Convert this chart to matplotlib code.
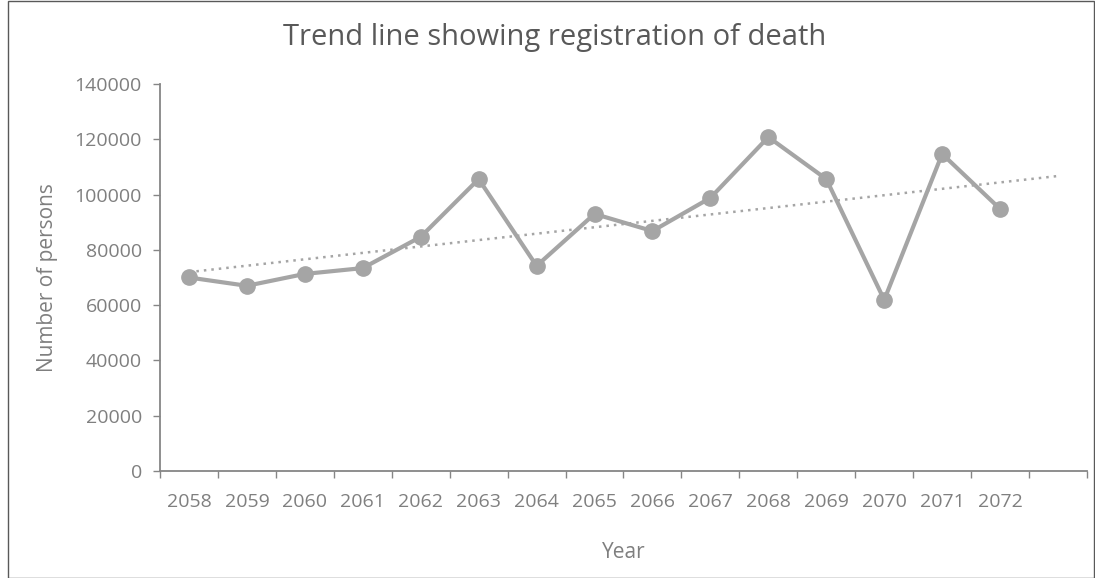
import numpy as np
import matplotlib
matplotlib.use("Agg")
import matplotlib.pyplot as plt
from matplotlib.patches import Rectangle

# registered deaths per year
years = ["2058", "2059", "2060", "2061", "2062", "2063", "2064", "2065",
         "2066", "2067", "2068", "2069", "2070", "2071", "2072"]
deaths = [70000, 67000, 71300, 73400, 84700, 105600, 74200, 93000,
          86800, 98800, 120800, 105600, 61900, 114700, 94800]
y_ticks = [0, 20000, 40000, 60000, 80000, 100000, 120000, 140000]

plt.rcParams['font.family'] = ['Open Sans', 'DejaVu Sans']
text_col = '#7f7f7f'
axis_col = '#868686'
line_col = '#a5a5a5'

fig = plt.figure(figsize=(10.95, 5.78), dpi=100, facecolor='w')
fig.patches.append(Rectangle((0.007, 0.0), 0.992, 0.998, transform=fig.transFigure,
                             fill=False, edgecolor='#595959', lw=1.0))
ax = fig.add_axes([0.1461, 0.1851, 0.8466, 0.6696])

x = np.arange(len(years))
ax.plot(x, deaths, color=line_col, lw=3.0, marker='o', markersize=11,
        zorder=3, solid_capstyle='round')

# linear trend, forecast forward one period
coef = np.polyfit(x, deaths, 1)
xt = np.array([0, len(years)])
ax.plot(xt, np.polyval(coef, xt), color=line_col, lw=1.8, ls=(0, (1, 2)), zorder=2)

ax.set_xlim(-0.5, len(years) + 0.5)
ax.set_ylim(0, 140000)
ax.set_yticks(y_ticks)
ax.set_yticklabels([str(v) for v in y_ticks])
ax.set_xticks(x)
ax.set_xticklabels(years)
ax.set_xticks(np.arange(-0.5, len(years) + 1), minor=True)
ax.tick_params(axis='x', which='major', length=0, pad=16, labelsize=14, colors=text_col)
ax.tick_params(axis='x', which='minor', length=5, width=1, color=axis_col, direction='out')
ax.tick_params(axis='y', length=5, width=1, color=axis_col, pad=8, labelsize=14,
               labelcolor=text_col)

for s in ['top', 'right']:
    ax.spines[s].set_visible(False)
for s in ['left', 'bottom']:
    ax.spines[s].set_color(axis_col)
    ax.spines[s].set_linewidth(1.3)

fig.text(555 / 1095, 1 - 38 / 578, "Trend line showing registration of death",
         fontsize=21, color='#595959', ha='center', va='center')
ax.set_xlabel("Year", fontsize=15, color=text_col, labelpad=22)
ax.set_ylabel("Number of persons", fontsize=15, color=text_col, labelpad=12)

fig.savefig("out.png", dpi=100)
